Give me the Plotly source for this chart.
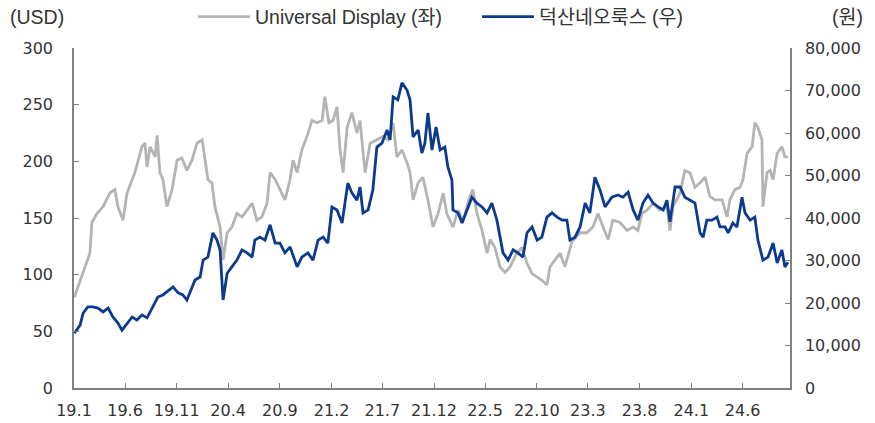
import plotly.graph_objects as go

# ---- Universal Display (USD, left axis) ----
oled_dates = [
    "2019-01-02", "2019-01-19", "2019-02-17", "2019-02-23", "2019-03-10", "2019-03-28",
    "2019-04-17", "2019-05-02", "2019-05-11", "2019-05-26", "2019-06-07", "2019-06-22",
    "2019-06-30", "2019-07-21", "2019-07-30", "2019-08-05", "2019-08-14", "2019-08-29",
    "2019-09-04", "2019-09-12", "2019-09-21", "2019-10-03", "2019-10-18", "2019-11-02",
    "2019-11-16", "2019-12-01", "2019-12-16", "2019-12-31", "2020-01-15", "2020-01-24",
    "2020-02-01", "2020-02-13", "2020-02-22", "2020-03-08", "2020-03-17", "2020-03-29",
    "2020-04-12", "2020-04-27", "2020-05-12", "2020-05-27", "2020-06-11", "2020-06-25",
    "2020-07-10", "2020-07-25", "2020-08-03", "2020-08-18", "2020-09-01", "2020-09-16",
    "2020-10-01", "2020-10-10", "2020-10-22", "2020-11-05", "2020-11-20", "2020-12-05",
    "2020-12-20", "2021-01-04", "2021-01-12", "2021-01-24", "2021-02-05", "2021-02-17",
    "2021-02-26", "2021-03-07", "2021-03-19", "2021-04-02", "2021-04-17", "2021-04-26",
    "2021-05-11", "2021-05-26", "2021-06-15", "2021-07-03", "2021-07-18", "2021-08-02",
    "2021-08-13", "2021-08-28", "2021-09-12", "2021-09-21", "2021-09-30", "2021-10-15",
    "2021-10-29", "2021-11-13", "2021-11-28", "2021-12-13", "2021-12-28", "2022-01-08",
    "2022-01-26", "2022-02-10", "2022-02-25", "2022-03-17", "2022-03-26", "2022-04-07",
    "2022-04-22", "2022-05-07", "2022-05-16", "2022-05-30", "2022-06-14", "2022-06-29",
    "2022-07-14", "2022-08-03", "2022-08-18", "2022-09-02", "2022-09-17", "2022-10-02",
    "2022-10-16", "2022-10-31", "2022-11-09", "2022-11-24", "2022-12-09", "2022-12-23",
    "2023-01-07", "2023-01-13", "2023-02-06", "2023-02-26", "2023-03-16", "2023-03-31",
    "2023-04-15", "2023-04-30", "2023-05-14", "2023-06-04", "2023-06-25", "2023-07-13",
    "2023-07-27", "2023-08-08", "2023-08-23", "2023-09-10", "2023-09-30", "2023-10-21",
    "2023-10-30", "2023-11-08", "2023-11-29", "2023-12-13", "2023-12-28", "2024-01-12",
    "2024-01-27", "2024-02-11", "2024-02-25", "2024-03-11", "2024-04-01", "2024-04-16",
    "2024-04-24", "2024-05-09", "2024-05-24", "2024-06-02", "2024-06-14", "2024-06-29",
    "2024-07-07", "2024-07-16", "2024-07-28", "2024-07-31", "2024-08-12", "2024-08-21",
    "2024-08-30", "2024-09-11", "2024-09-25", "2024-10-04", "2024-10-13",
]
oled_usd = [
    80, 95, 119, 146, 154, 160,
    172, 175, 160, 148, 172, 184,
    190, 213, 216, 195, 213, 204,
    223, 190, 184, 160, 175, 201,
    203, 192, 201, 216, 219, 201,
    184, 181, 160, 142, 113, 137,
    142, 154, 151, 157, 163, 148,
    151, 163, 190, 184, 175, 166,
    184, 201, 190, 210, 222, 236,
    234, 236, 257, 234, 236, 248,
    210, 190, 230, 243, 225, 236,
    190, 216, 219, 222, 219, 234,
    204, 210, 199, 190, 166, 181,
    186, 166, 142, 154, 172, 154,
    142, 157, 148, 169, 175, 154,
    139, 119, 131, 124, 107, 102,
    107, 119, 124, 110, 101, 98,
    95, 91, 107, 113, 119, 107,
    124, 129, 137, 137, 142, 154,
    142, 131, 148, 146, 139, 142,
    139, 154, 157, 163, 157, 160,
    139, 160, 172, 192, 190, 177,
    181, 186, 169, 166, 166, 151,
    166, 175, 177, 184, 207, 213,
    234, 230, 219, 160, 190, 192,
    184, 207, 213, 204, 204,
]

# ---- 덕산네오룩스 (KRW, right axis) ----
dnx_dates = [
    "2019-01-02", "2019-01-19", "2019-01-28", "2019-02-11", "2019-02-26", "2019-03-13",
    "2019-03-28", "2019-04-12", "2019-04-26", "2019-05-11", "2019-05-23", "2019-06-07",
    "2019-06-22", "2019-07-06", "2019-07-21", "2019-08-05", "2019-08-20", "2019-09-06",
    "2019-09-21", "2019-10-12", "2019-10-21", "2019-11-05", "2019-11-19", "2019-12-01",
    "2019-12-10", "2019-12-25", "2020-01-09", "2020-01-18", "2020-02-01", "2020-02-16",
    "2020-02-28", "2020-03-08", "2020-03-17", "2020-03-29", "2020-04-12", "2020-04-27",
    "2020-05-12", "2020-05-27", "2020-06-11", "2020-06-19", "2020-07-04", "2020-07-19",
    "2020-08-03", "2020-08-18", "2020-09-01", "2020-09-16", "2020-10-01", "2020-10-22",
    "2020-11-05", "2020-11-23", "2020-12-08", "2020-12-23", "2021-01-07", "2021-01-21",
    "2021-02-02", "2021-02-17", "2021-03-04", "2021-03-13", "2021-03-21", "2021-04-02",
    "2021-04-17", "2021-04-26", "2021-05-05", "2021-05-20", "2021-06-03", "2021-06-15",
    "2021-06-30", "2021-07-15", "2021-07-24", "2021-08-02", "2021-08-16", "2021-08-28",
    "2021-09-12", "2021-09-21", "2021-09-30", "2021-10-15", "2021-10-26", "2021-11-04",
    "2021-11-13", "2021-11-25", "2021-12-07", "2021-12-19", "2022-01-02", "2022-01-11",
    "2022-01-23", "2022-01-26", "2022-02-10", "2022-02-22", "2022-03-08", "2022-03-23",
    "2022-04-07", "2022-04-22", "2022-05-07", "2022-05-21", "2022-06-05", "2022-06-14",
    "2022-06-23", "2022-07-08", "2022-07-23", "2022-08-06", "2022-08-21", "2022-09-02",
    "2022-09-17", "2022-10-02", "2022-10-16", "2022-10-31", "2022-11-15", "2022-11-30",
    "2022-12-15", "2022-12-29", "2023-01-07", "2023-01-22", "2023-02-06", "2023-02-21",
    "2023-03-07", "2023-03-22", "2023-04-06", "2023-04-21", "2023-05-11", "2023-05-29",
    "2023-06-13", "2023-06-28", "2023-07-13", "2023-07-27", "2023-08-11", "2023-08-26",
    "2023-09-10", "2023-09-25", "2023-10-10", "2023-10-21", "2023-10-30", "2023-11-14",
    "2023-11-29", "2023-12-13", "2023-12-28", "2024-01-12", "2024-01-27", "2024-02-05",
    "2024-02-16", "2024-03-02", "2024-03-17", "2024-03-26", "2024-04-10", "2024-04-19",
    "2024-05-03", "2024-05-15", "2024-05-30", "2024-06-08", "2024-06-23", "2024-07-07",
    "2024-07-16", "2024-07-31", "2024-08-15", "2024-08-30", "2024-09-11", "2024-09-25",
    "2024-10-04", "2024-10-13",
]
dnx_krw = [
    12900, 14800, 17600, 19100, 19100, 18800,
    17900, 18800, 16700, 15300, 13600, 15300,
    16700, 16000, 17200, 16500, 18800, 21400,
    21900, 23100, 23800, 22400, 21900, 20700,
    22400, 25400, 26100, 30100, 30800, 36500,
    34800, 32500, 20700, 27000, 28500, 30100,
    32500, 31800, 30800, 34800, 35500, 34800,
    38400, 34100, 34100, 31800, 33200, 28500,
    30800, 31800, 30100, 34800, 35500, 34100,
    42600, 41900, 38800, 43500, 48200, 45900,
    44200, 47300, 41200, 41900, 46600, 56700,
    57600, 60700, 58400, 68500, 67800, 71800,
    70100, 67800, 59100, 60700, 55300, 57600,
    64700, 56000, 61400, 56000, 56700, 52000,
    48900, 41900, 41200, 38800, 41900, 44900,
    43500, 42600, 41200, 43500, 39500, 35500,
    31800, 30100, 32500, 31800, 30800, 36500,
    37900, 34800, 35500, 40200, 41200, 40200,
    39500, 39500, 34800, 35500, 37900, 43500,
    41200, 49600, 46600, 42600, 44900, 45400,
    44900, 46100, 41900, 39500, 43500, 45400,
    43500, 42600, 41900, 44200, 39100, 47300,
    47300, 44900, 44200, 43500, 36500, 35500,
    39500, 39500, 40200, 37900, 37900, 36500,
    38800, 37900, 44900, 41200, 39500, 40200,
    34800, 30100, 30800, 34100, 29400, 32500,
    28500, 29600,
]

# ---- axis ticks ----
x_tick_dates = [
    "2019-01-01", "2019-06-01", "2019-11-01", "2020-04-01", "2020-09-01", "2021-02-01",
    "2021-07-01", "2021-12-01", "2022-05-01", "2022-10-01", "2023-03-01", "2023-08-01",
    "2024-01-01", "2024-06-01",
]
x_tick_labels = [
    "19.1", "19.6", "19.11", "20.4", "20.9", "21.2", "21.7", "21.12",
    "22.5", "22.10", "23.3", "23.8", "24.1", "24.6",
]
x_range = ["2019-01-01", "2024-10-19"]

GRAY = "#B4B4B4"
BLUE = "#0B3A8E"
AXIS = "#808080"
TXT = "#333333"
TICK_FONT = dict(family="DejaVu Sans", size=16, color=TXT)
LBL_FONT = dict(family="Liberation Sans, Noto Sans CJK KR", size=19.5, color=TXT)

fig = go.Figure()
fig.add_trace(go.Scatter(
    x=oled_dates, y=oled_usd, mode="lines", name="Universal Display (좌)",
    line=dict(color=GRAY, width=2.8), yaxis="y",
))
fig.add_trace(go.Scatter(
    x=dnx_dates, y=dnx_krw, mode="lines", name="덕산네오룩스 (우)",
    line=dict(color=BLUE, width=2.8), yaxis="y2",
))

fig.update_layout(
    width=875, height=423,
    margin=dict(l=74, r=85, t=48, b=35, autoexpand=False),
    paper_bgcolor="white", plot_bgcolor="white",
    showlegend=True,
    legend=dict(
        orientation="h", x=(193 - 74) / 716, xanchor="left",
        y=1 + (48 - 17) / 340, yanchor="middle",
        font=LBL_FONT, entrywidth=217, entrywidthmode="pixels",
        itemwidth=52, bgcolor="rgba(0,0,0,0)",
    ),
    xaxis=dict(
        type="date", range=x_range, tickmode="array",
        tickvals=x_tick_dates, ticktext=x_tick_labels,
        showgrid=False, zeroline=False, automargin=False,
        showline=True, linecolor=AXIS, linewidth=1.5,
        ticks="inside", ticklen=5, tickcolor=AXIS, tickwidth=1,
        tickfont=TICK_FONT, ticklabelstandoff=7,
    ),
    yaxis=dict(
        range=[0, 300], tickmode="linear", tick0=0, dtick=50,
        showgrid=False, zeroline=False, automargin=False,
        showline=True, linecolor=AXIS, linewidth=1.5,
        ticks="inside", ticklen=5, tickcolor=AXIS, tickwidth=1,
        tickfont=TICK_FONT, ticklabelstandoff=16,
    ),
    yaxis2=dict(
        range=[0, 80000], tickmode="linear", tick0=0, dtick=10000,
        tickformat=",d", overlaying="y", side="right",
        showgrid=False, zeroline=False, automargin=False,
        showline=True, linecolor=AXIS, linewidth=1.5,
        ticks="inside", ticklen=5, tickcolor=AXIS, tickwidth=1,
        tickfont=TICK_FONT, ticklabelstandoff=10,
    ),
    annotations=[
        dict(text="(USD)", xref="paper", yref="paper", x=-66 / 716, y=1 + (48 - 17) / 340,
             xanchor="left", yanchor="middle", showarrow=False, font=LBL_FONT),
        dict(text="(원)", xref="paper", yref="paper", x=(865 - 74) / 716, y=1 + (48 - 17) / 340,
             xanchor="right", yanchor="middle", showarrow=False, font=LBL_FONT),
    ],
)

fig.write_html(
    "out.html",
    config={"displayModeBar": False},
    post_script="document.body.style.margin='0px';",
)
